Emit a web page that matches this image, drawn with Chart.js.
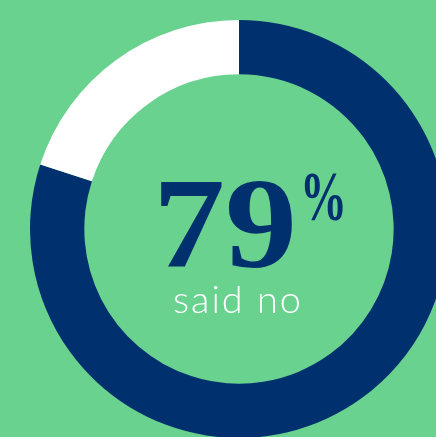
<!DOCTYPE html>
<html>
<head>
<meta charset="utf-8">
<script src="https://cdn.jsdelivr.net/npm/chart.js@4"></script>
<style>
  html, body { margin: 0; padding: 0; width: 436px; height: 437px; overflow: hidden; background: #69d28f; }
  #wrap { position: absolute; left: 30px; top: 20px; width: 418px; height: 418px; }
</style>
</head>
<body>
<div id="wrap"><canvas id="chart"></canvas></div>
<script>
// answers, as drawn on the ring
const labels = ['No', 'Other'];
const values = [80, 20];
const colors = ['#00316e', '#ffffff'];
const bigNumber = '79';
const caption = 'said no';

// draws text scaled to a given width
function fitText(ctx, text, x, y, width) {
  const w = ctx.measureText(text).width;
  ctx.save();
  ctx.translate(x, y);
  ctx.scale(width / w, 1);
  ctx.fillText(text, 0, 0);
  ctx.restore();
}

// text in the middle of the ring
const centerText = {
  id: 'centerText',
  afterDraw(chart) {
    const { ctx } = chart;
    const arc = chart.getDatasetMeta(0).data[0];
    const cx = arc.x, cy = arc.y;
    ctx.save();
    ctx.fillStyle = '#00316e';
    ctx.textBaseline = 'alphabetic';
    ctx.textAlign = 'left';
    ctx.font = 'bold 130px "Liberation Serif", serif';
    fitText(ctx, bigNumber, cx - 86, cy + 38, 144);
    ctx.font = 'bold 70px "Liberation Serif", serif';
    fitText(ctx, '%', cx + 61, cy - 9, 47);
    ctx.fillStyle = '#ffffff';
    ctx.font = '300 38px "Lato", "Liberation Sans", sans-serif';
    ctx.letterSpacing = '2px';
    fitText(ctx, caption, cx - 66, cy + 84, 130);
    ctx.restore();
  }
};

new Chart(document.getElementById('chart'), {
  type: 'doughnut',
  data: {
    labels: labels,
    datasets: [{ data: values, backgroundColor: colors, borderWidth: 0 }]
  },
  options: {
    responsive: true,
    maintainAspectRatio: false,
    animation: false,
    cutout: '74%',
    events: [],
    plugins: { legend: { display: false }, tooltip: { enabled: false } }
  },
  plugins: [centerText]
});
</script>
</body>
</html>
